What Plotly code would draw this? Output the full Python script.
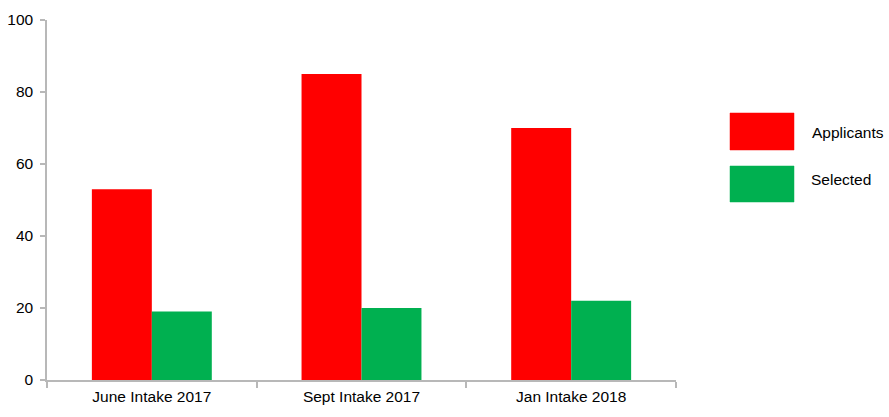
import plotly.graph_objects as go

categories = ["June Intake 2017", "Sept Intake 2017", "Jan Intake 2018"]
applicants = [53, 85, 70]
selected = [19, 20, 22]
series_names = ["Applicants", "Selected"]
series_colors = ["#FF0000", "#00B050"]
y_ticks = [0, 20, 40, 60, 80, 100]

fig = go.Figure()
for name, vals, col in zip(series_names, [applicants, selected], series_colors):
    fig.add_trace(go.Bar(x=categories, y=vals, name=name, marker_color=col,
                         marker_line_width=0, showlegend=False))

W, H = 889, 417
pl, pr, pt, pb = 47, 676, 20, 380

axis_col = "#b8b8b8"
fig.update_layout(
    width=W, height=H, autosize=False,
    margin=dict(l=pl, r=W - pr, t=pt, b=H - pb, pad=0, autoexpand=False),
    paper_bgcolor="white", plot_bgcolor="white",
    barmode="group", bargap=0.428, bargroupgap=0,
    font=dict(family="Liberation Sans, Arial, sans-serif", size=15.5, color="#000000"),
    xaxis=dict(showline=True, linecolor=axis_col, linewidth=1.5, ticks="outside",
               tickson="boundaries", ticklen=6, tickcolor=axis_col, tickwidth=1.5,
               showgrid=False, zeroline=False, ticklabelstandoff=2, automargin=False),
    yaxis=dict(range=[0, 100], tickvals=y_ticks, showline=True, linecolor=axis_col,
               linewidth=1.5, ticks="outside", ticklen=5, tickcolor=axis_col,
               tickwidth=1.5, showgrid=False, zeroline=False, ticklabelstandoff=4,
               automargin=False),
)

def px_x(x):
    return (x - pl) / (pr - pl)
def px_y(y):
    return (pb - y) / (pb - pt)

# custom legend with large swatches (pixel positions -> paper coords)
swatches = [(113, 150, 132, 810), (166, 202, 179, 809)]
for (y0, y1, ty, tx), name, col in zip(swatches, series_names, series_colors):
    fig.add_shape(type="rect", xref="paper", yref="paper",
                  x0=px_x(730), x1=px_x(794), y0=px_y(y1), y1=px_y(y0),
                  fillcolor=col, line=dict(color=col, width=0.5))
    fig.add_annotation(xref="paper", yref="paper", x=px_x(tx), y=px_y(ty),
                       text=name, showarrow=False, xanchor="left", yanchor="middle",
                       font=dict(size=15.5))

fig.write_html("out.html", config={"displayModeBar": False},
               post_script="document.body.style.margin='0';document.body.style.overflow='hidden';")
